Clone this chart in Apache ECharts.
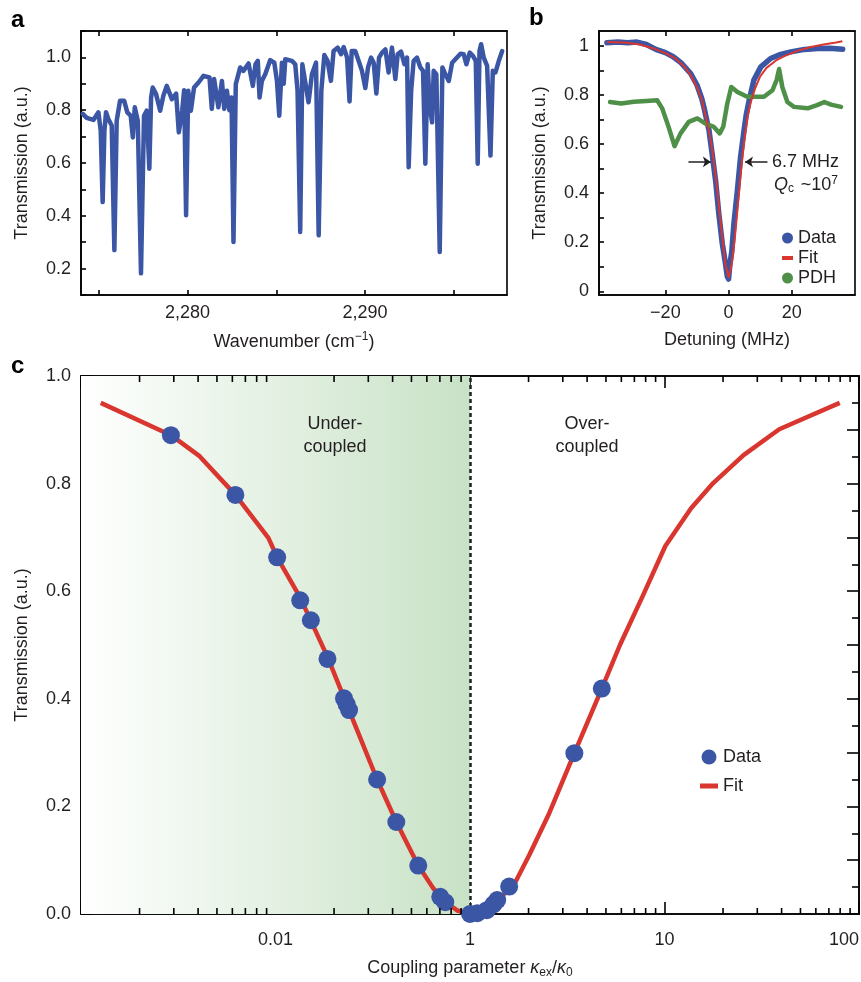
<!DOCTYPE html>
<html><head><meta charset="utf-8">
<script src="https://cdn.jsdelivr.net/npm/echarts@6/dist/echarts.min.js"></script>
<style>html,body{margin:0;padding:0;background:#fff}#c{width:861px;height:982px}</style>
</head><body><div id="c"></div>
<script>
// ---------- Panel a ----------
const wavenumberA = [2274.10,2274.32,2274.70,2274.98,2275.11,2275.22,2275.32,2275.41,2275.54,2275.73,2275.88,2276.01,2276.20,2276.43,2276.61,2276.80,2276.92,2277.03,2277.20,2277.38,2277.55,2277.70,2277.85,2277.95,2278.04,2278.23,2278.46,2278.64,2278.83,2279.12,2279.36,2279.51,2279.70,2279.81,2279.92,2280.04,2280.19,2280.37,2280.62,2280.90,2281.24,2281.37,2281.50,2281.74,2281.94,2282.07,2282.22,2282.36,2282.48,2282.59,2282.72,2282.97,2283.15,2283.44,2283.68,2283.83,2283.96,2284.06,2284.19,2284.38,2284.66,2284.89,2285.04,2285.17,2285.32,2285.42,2285.51,2285.60,2285.88,2286.07,2286.20,2286.35,2286.47,2286.58,2286.82,2287.01,2287.24,2287.39,2287.54,2287.71,2287.89,2288.08,2288.23,2288.46,2288.65,2288.80,2288.99,2289.13,2289.25,2289.45,2289.64,2289.83,2290.02,2290.17,2290.34,2290.49,2290.64,2290.79,2290.96,2291.15,2291.33,2291.52,2291.71,2291.84,2292.03,2292.22,2292.37,2292.46,2292.60,2292.74,2292.93,2293.12,2293.27,2293.40,2293.53,2293.65,2293.78,2293.87,2294.02,2294.21,2294.36,2294.53,2294.72,2294.91,2295.09,2295.38,2295.56,2295.71,2295.90,2296.09,2296.24,2296.35,2296.45,2296.54,2296.69,2296.88,2297.07,2297.20,2297.35,2297.54,2297.73];
const transmissionA = [0.786,0.771,0.763,0.792,0.723,0.452,0.723,0.792,0.767,0.742,0.270,0.760,0.836,0.836,0.792,0.779,0.697,0.811,0.760,0.182,0.779,0.798,0.578,0.848,0.886,0.861,0.798,0.855,0.892,0.842,0.863,0.716,0.798,0.876,0.402,0.874,0.798,0.886,0.905,0.930,0.924,0.805,0.918,0.811,0.911,0.805,0.874,0.800,0.848,0.301,0.899,0.962,0.949,0.977,0.892,0.974,0.987,0.848,0.911,0.936,0.990,0.980,0.911,0.779,0.980,0.900,0.993,0.999,0.987,0.974,0.874,0.339,0.974,0.980,0.830,0.936,0.980,0.326,0.874,1.009,0.987,0.911,1.024,1.037,1.012,1.039,0.999,0.833,1.024,1.024,0.987,0.949,0.884,0.962,0.999,0.980,0.863,0.999,1.018,1.030,0.943,1.037,0.918,1.012,1.022,0.974,0.999,0.584,0.874,0.987,0.999,0.962,0.949,0.597,0.974,0.811,0.754,0.949,0.936,0.263,0.962,0.936,0.911,0.980,0.993,1.014,1.012,0.974,1.018,1.005,0.987,0.597,1.024,1.050,0.999,0.968,0.628,0.949,0.943,0.987,1.024];
const xTicksA = [2275, 2280, 2285, 2290, 2295];
const xLabelsA = [2280, 2290];

// ---------- Panel b ----------
const detuningData = [-38.5,-35,-32,-29,-26,-23,-20,-17.5,-15,-12,-10,-8.5,-7.8,-6.8,-6.2,-5.2,-4.1,-3.1,-2.0,-1.0,-0.4,0,0.4,1.0,1.7,2.8,3.8,4.9,5.6,6.4,8.0,10.2,13.3,16.5,19.7,24,28.2,32,36.1];
const transData = [1.012,1.015,1.012,1.015,1.005,0.985,0.972,0.955,0.93,0.887,0.84,0.785,0.75,0.69,0.656,0.56,0.45,0.317,0.195,0.114,0.06,0.05,0.11,0.16,0.277,0.412,0.548,0.656,0.72,0.771,0.86,0.914,0.948,0.965,0.975,0.985,0.989,0.99,0.986];
const detuningFit = [-38.5,-33,-28,-24,-20,-17,-14,-12,-10,-8.5,-7,-6,-5,-4,-3,-2,-1,0,1,2,3,4,5,6,7,8.5,10,12,15,18,22,26,30,34,36];
const transFit = [1.015,1.013,1.005,0.99,0.97,0.95,0.915,0.88,0.83,0.78,0.7,0.64,0.56,0.46,0.34,0.22,0.11,0.055,0.11,0.22,0.36,0.5,0.62,0.71,0.77,0.83,0.875,0.91,0.94,0.96,0.98,0.995,1.005,1.013,1.018];
const detuningPDH = [-37.5,-34,-30,-26,-22.6,-21,-19,-17.1,-15.2,-12.6,-9.9,-7.3,-4.7,-2.8,-1.7,-0.4,0.85,2.8,5.9,11.2,13.9,15.2,16.0,17.0,18.6,20.7,25,28,30.3,32.4,35.6];
const transPDH = [0.771,0.765,0.772,0.775,0.778,0.745,0.67,0.591,0.643,0.69,0.704,0.683,0.67,0.643,0.67,0.765,0.832,0.812,0.792,0.792,0.819,0.86,0.905,0.832,0.771,0.751,0.745,0.758,0.771,0.76,0.751];
const xTicksB = [-20, 0, 20];
const yTicksB = [0, 0.1, 0.2, 0.3, 0.4, 0.5, 0.6, 0.7, 0.8, 0.9, 1.0];
const yLabelsB = [0, 0.2, 0.4, 0.6, 0.8, 1];

// ---------- Panel c ----------
const couplingData = [0.029,0.0622,0.102,0.134,0.152,0.185,0.225,0.232,0.239,0.333,0.418,0.542,0.703,0.746,1.0,1.09,1.22,1.32,1.38,1.59,3.44,4.76];
const transCouplingData = [0.890,0.779,0.663,0.583,0.546,0.474,0.401,0.390,0.379,0.250,0.171,0.090,0.032,0.022,0.0,0.0015,0.007,0.018,0.026,0.051,0.299,0.419];
const couplingFit = [0.01264,0.029,0.0407,0.0622,0.0919,0.102,0.134,0.185,0.26,0.333,0.418,0.542,0.647,0.746,0.867,1.0,1.16,1.35,1.71,2.02,2.53,3.44,4.76,5.9,7.66,10.1,13.7,17.8,25.5,38.9,79.6];
const transCouplingFit = [0.95,0.89,0.851,0.779,0.699,0.663,0.588,0.478,0.346,0.25,0.171,0.09,0.048,0.022,0.006,0.0,0.004,0.02,0.059,0.11,0.184,0.299,0.419,0.5,0.588,0.684,0.754,0.801,0.853,0.901,0.95];
const xTickValuesC = [0.1, 1, 10, 100];
const xTickLabelsC = ['0.01', '1', '10', '100'];
const minorTicksC = [0.02,0.03,0.04,0.05,0.06,0.07,0.08,0.09,0.2,0.3,0.4,0.5,0.6,0.7,0.8,0.9,2,3,4,5,6,7,8,9,20,30,40,50,60,70,80,90];

const FONT = "'Liberation Sans', Arial, Helvetica, sans-serif";
const FS = 18;
const TXT = '#231f20';
const BLUE = '#3a56a5';
const RED = '#d8362f';
const GREEN = '#4f9048';
const zip = (a, b) => a.map((v, i) => [v, b[i]]);
const lab = {fontFamily: FONT, fontSize: FS, color: TXT};
const axLine = {show: true, onZero: false, lineStyle: {color: '#000', width: 1.6}};
const tickStyle = {color: '#000', width: 1.6};

const chart = echarts.init(document.getElementById('c'), null, {renderer: 'canvas'});

const option = {
  animation: false,
  backgroundColor: '#fff',
  textStyle: {fontFamily: FONT},
  grid: [
    {left: 81, top: 31, width: 426, height: 264, show: true, borderColor: '#000', borderWidth: 1.6, outerBoundsMode: 'none', containLabel: false},
    {left: 599, top: 31, width: 256, height: 264, show: true, borderColor: '#000', borderWidth: 1.6, outerBoundsMode: 'none', containLabel: false},
    {left: 81, top: 376, width: 778, height: 538, show: true, borderColor: '#000', borderWidth: 1.6, outerBoundsMode: 'none', containLabel: false}
  ],
  xAxis: [
    {gridIndex: 0, type: 'value', min: 2274, max: 2298, position: 'bottom', axisLine: axLine,
     axisTick: {inside: true, length: 5, lineStyle: tickStyle, customValues: xTicksA},
     axisLabel: Object.assign({}, lab, {margin: 9, customValues: xLabelsA, formatter: v => String(v).replace(/(\d)(\d{3})$/, '$1,$2')}),
     splitLine: {show: false},
     name: 'Wavenumber (cm{p|−1})', nameLocation: 'middle', nameGap: 36, nameMoveOverlap: false,
     nameTextStyle: Object.assign({}, lab, {lineHeight: 22, rich: {p: {fontFamily: FONT, fontSize: 12, color: TXT, verticalAlign: 'top', lineHeight: 14}}})},
    {gridIndex: 0, type: 'value', min: 2274, max: 2298, position: 'top', axisLine: axLine,
     axisTick: {inside: true, length: 5, lineStyle: tickStyle, customValues: xTicksA},
     axisLabel: {show: false}, splitLine: {show: false}},
    {gridIndex: 1, type: 'value', min: -41, max: 40, position: 'bottom', axisLine: axLine,
     axisTick: {inside: true, length: 5, lineStyle: tickStyle, customValues: xTicksB},
     axisLabel: Object.assign({}, lab, {margin: 9, customValues: xTicksB, formatter: v => v < 0 ? '−' + Math.abs(v) : String(v)}),
     splitLine: {show: false},
     name: 'Detuning (MHz)', nameLocation: 'middle', nameGap: 36, nameMoveOverlap: false, nameTextStyle: lab},
    {gridIndex: 1, type: 'value', min: -41, max: 40, position: 'top', axisLine: axLine,
     axisTick: {inside: true, length: 5, lineStyle: tickStyle, customValues: xTicksB},
     axisLabel: {show: false}, splitLine: {show: false}},
    {gridIndex: 2, type: 'log', logBase: 10, min: 0.01, max: 100, position: 'bottom', axisLine: axLine,
     axisTick: {inside: true, length: 12, lineStyle: tickStyle},
     axisLabel: Object.assign({}, lab, {margin: 17, alignMaxLabel: 'right', showMinLabel: true, showMaxLabel: true,
       formatter: v => { const k = Math.round(Math.log10(v)); const i = xTickValuesC.findIndex(t => Math.round(Math.log10(t)) === k); return i >= 0 ? xTickLabelsC[i] : ''; }}),
     splitLine: {show: false}, minorTick: {show: false},
     name: 'Coupling parameter {i|κ}{s|ex}/{i|κ}{s|0}', nameLocation: 'middle', nameGap: 43, nameMoveOverlap: false,
     nameTextStyle: Object.assign({}, lab, {lineHeight: 22, rich: {
       i: {fontFamily: FONT, fontSize: FS, color: TXT, fontStyle: 'italic', lineHeight: 22},
       s: {fontFamily: FONT, fontSize: 12, color: TXT, verticalAlign: 'bottom', lineHeight: 14}}})},
    {gridIndex: 2, type: 'log', logBase: 10, min: 0.01, max: 100, position: 'top', axisLine: axLine,
     axisTick: {inside: true, length: 12, lineStyle: tickStyle},
     axisLabel: {show: false}, splitLine: {show: false}}
  ],
  yAxis: [
    {gridIndex: 0, type: 'value', min: 0.1, max: 1.1, interval: 0.1, position: 'left', axisLine: axLine,
     axisTick: {inside: true, length: 5, lineStyle: tickStyle},
     axisLabel: Object.assign({}, lab, {margin: 10, showMinLabel: true, showMaxLabel: true,
       formatter: v => { const k = Math.round(v * 10); return (k % 2 === 0 && k <= 10) ? (k / 10).toFixed(1) : ''; }}),
     splitLine: {show: false},
     name: 'Transmission (a.u.)', nameLocation: 'middle', nameGap: 50, nameMoveOverlap: false, nameTextStyle: lab},
    {gridIndex: 1, type: 'value', min: -0.015, max: 1.06, position: 'left', axisLine: axLine,
     axisTick: {inside: true, length: 5, lineStyle: tickStyle, customValues: yTicksB},
     axisLabel: Object.assign({}, lab, {margin: 10, customValues: yLabelsB,
       formatter: v => (Math.abs(v) < 1e-9 ? '0' : Math.abs(v - 1) < 1e-9 ? '1' : v.toFixed(1))}),
     splitLine: {show: false},
     name: 'Transmission (a.u.)', nameLocation: 'middle', nameGap: 50, nameMoveOverlap: false, nameTextStyle: lab},
    {gridIndex: 2, type: 'value', min: 0, max: 1, interval: 0.1, position: 'left', axisLine: axLine,
     axisTick: {inside: true, length: 12, lineStyle: tickStyle},
     minorTick: {show: true, splitNumber: 2, length: 7, lineStyle: tickStyle},
     axisLabel: Object.assign({}, lab, {margin: 10, showMinLabel: true, showMaxLabel: true,
       formatter: v => { const k = Math.round(v * 10); return k % 2 === 0 ? (k / 10).toFixed(1) : ''; }}),
     splitLine: {show: false}, minorSplitLine: {show: false},
     name: 'Transmission (a.u.)', nameLocation: 'middle', nameGap: 50, nameMoveOverlap: false, nameTextStyle: lab},
    {gridIndex: 2, type: 'value', min: 0, max: 1, interval: 0.1, position: 'right', axisLine: axLine,
     axisTick: {inside: true, length: 12, lineStyle: tickStyle},
     minorTick: {show: true, splitNumber: 2, length: 7, lineStyle: tickStyle},
     axisLabel: {show: false}, splitLine: {show: false}, minorSplitLine: {show: false}}
  ],
  legend: [
    {left: 782, top: 229, orient: 'vertical', padding: 0, itemGap: 2, itemWidth: 11, itemHeight: 11,
     itemStyle: {borderWidth: 0}, selectedMode: false,
     textStyle: {fontFamily: FONT, fontSize: FS, color: TXT, lineHeight: 17},
     data: [{name: 'Data', icon: 'circle'}, {name: 'Fit', icon: 'path://M0,0L0.01,0M0,3.5L11,3.5L11,7.5L0,7.5ZM11,11L10.99,11'}, {name: 'PDH', icon: 'circle'}]},
    {left: 700, top: 748, orient: 'vertical', padding: 0, itemGap: 11, itemWidth: 18, itemHeight: 15,
     itemStyle: {borderWidth: 0}, selectedMode: false,
     textStyle: {fontFamily: FONT, fontSize: FS, color: TXT, lineHeight: 17},
     data: [{name: 'Data', icon: 'circle'}, {name: 'Fit', icon: 'path://M0,0L0.01,0M0,5L18,5L18,10L0,10ZM18,15L17.99,15'}]}
  ],
  series: [
    // panel a
    {type: 'line', xAxisIndex: 0, yAxisIndex: 0, data: zip(wavenumberA, transmissionA), showSymbol: false, symbol: 'none',
     lineStyle: {color: BLUE, width: 4.5, join: 'round', cap: 'round'}, z: 3},
    // panel b
    {name: 'Data', type: 'line', xAxisIndex: 2, yAxisIndex: 1, data: zip(detuningData, transData), showSymbol: false, symbol: 'none',
     color: BLUE, lineStyle: {color: BLUE, width: 5.5, join: 'round', cap: 'round'}, z: 2},
    {name: 'PDH', type: 'line', xAxisIndex: 2, yAxisIndex: 1, data: zip(detuningPDH, transPDH), showSymbol: false, symbol: 'none',
     color: GREEN, lineStyle: {color: GREEN, width: 4.5, join: 'round', cap: 'round'}, z: 3},
    {name: 'Fit', type: 'line', xAxisIndex: 2, yAxisIndex: 1, data: zip(detuningFit, transFit), showSymbol: false, symbol: 'none',
     color: RED, lineStyle: {color: RED, width: 2}, z: 4,
     markLine: {silent: true, symbol: ['none', 'arrow'], symbolSize: [8, 8], label: {show: false},
       lineStyle: {color: '#231f20', width: 1.5, type: 'solid'},
       data: [[{coord: [-12.7, 0.527]}, {coord: [-5.6, 0.527]}], [{coord: [12.3, 0.527]}, {coord: [5.2, 0.527]}]]}},
    // panel c decorations
    {type: 'line', xAxisIndex: 4, yAxisIndex: 2, data: [], z: 1, silent: true,
     markArea: {silent: true, itemStyle: {color: new echarts.graphic.LinearGradient(0, 0, 1, 0, [{offset: 0, color: '#ffffff'}, {offset: 1, color: '#c8e2c6'}])},
       data: [[{xAxis: 0.01, yAxis: 0}, {xAxis: 1, yAxis: 1}]]},
     markLine: {silent: true, symbol: ['none', 'none'], label: {show: false},
       lineStyle: {color: '#231f20', width: 2.5, type: [4, 3]}, data: [{xAxis: 1}]}},
    {type: 'custom', xAxisIndex: 4, yAxisIndex: 2, data: minorTicksC.map(v => [v, 0]), silent: true, clip: false, z: 6,
     encode: {x: 0, y: 1},
     renderItem: (params, api) => {
       const v = api.value(0);
       const b = api.coord([v, 0]);
       const t = api.coord([v, 1]);
       return {type: 'group', children: [
         {type: 'line', shape: {x1: b[0], y1: b[1], x2: b[0], y2: b[1] - 6}, style: {stroke: '#000', lineWidth: 1.6}},
         {type: 'line', shape: {x1: t[0], y1: t[1], x2: t[0], y2: t[1] + 6}, style: {stroke: '#000', lineWidth: 1.6}}
       ]};
     }},
    {name: 'Fit', type: 'line', xAxisIndex: 4, yAxisIndex: 2, data: zip(couplingFit, transCouplingFit), showSymbol: false, symbol: 'none',
     color: RED, lineStyle: {color: RED, width: 4.5, join: 'round'}, z: 4},
    {name: 'Data', type: 'scatter', xAxisIndex: 4, yAxisIndex: 2, data: zip(couplingData, transCouplingData), symbol: 'circle', symbolSize: 18,
     color: BLUE, itemStyle: {color: BLUE, opacity: 1}, z: 5}
  ],
  graphic: [
    {type: 'text', silent: true, z: 100, style: {x: 11, y: 20, text: 'a', font: 'bold 24px ' + FONT, fill: '#000', align: 'left', verticalAlign: 'middle'}},
    {type: 'text', silent: true, z: 100, style: {x: 529, y: 18, text: 'b', font: 'bold 24px ' + FONT, fill: '#000', align: 'left', verticalAlign: 'middle'}},
    {type: 'text', silent: true, z: 100, style: {x: 11, y: 366, text: 'c', font: 'bold 24px ' + FONT, fill: '#000', align: 'left', verticalAlign: 'middle'}},
    {type: 'text', silent: true, z: 100, style: {x: 772, y: 162, text: '6.7 MHz', font: FS + 'px ' + FONT, fill: TXT, align: 'left', verticalAlign: 'middle'}},
    {type: 'text', silent: true, z: 100, style: {x: 774, y: 185, text: '{q|Q}{s|c}  {n|~10}{p|7}', align: 'left', verticalAlign: 'middle',
      rich: {q: {fontFamily: FONT, fontSize: FS, fontStyle: 'italic', fill: TXT, lineHeight: 20},
             s: {fontFamily: FONT, fontSize: 12, fill: TXT, verticalAlign: 'bottom', lineHeight: 11},
             n: {fontFamily: FONT, fontSize: FS, fill: TXT, lineHeight: 20},
             p: {fontFamily: FONT, fontSize: 12, fill: TXT, verticalAlign: 'top', lineHeight: 11}}}},
    {type: 'text', silent: true, z: 100, style: {x: 335, y: 436, text: 'Under-\ncoupled', font: FS + 'px ' + FONT, fill: TXT, align: 'center', verticalAlign: 'middle', lineHeight: 23}},
    {type: 'text', silent: true, z: 100, style: {x: 587, y: 436, text: 'Over-\ncoupled', font: FS + 'px ' + FONT, fill: TXT, align: 'center', verticalAlign: 'middle', lineHeight: 23}}
  ]
};
chart.setOption(option);
</script>
</body></html>
